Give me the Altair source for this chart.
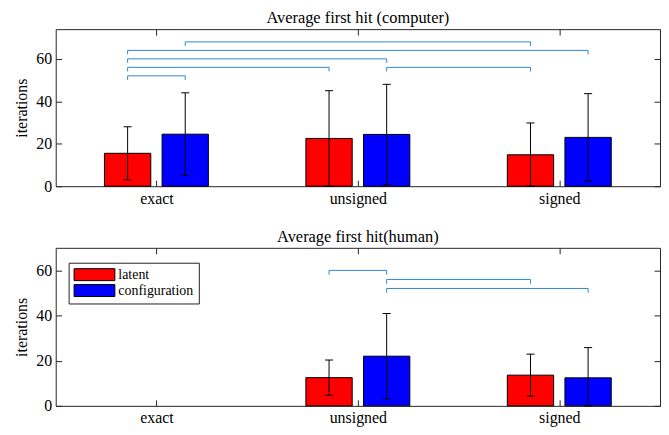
import json
import altair as alt
import pandas as pd

categories = ["exact", "unsigned", "signed"]
series = ["latent", "configuration"]
series_colors = ["#FF0000", "#0000FF"]

comp_mean_latent = [15.5, 22.5, 14.8]
comp_mean_config = [24.5, 24.4, 23.0]
comp_std_latent = [12.5, 22.5, 15.0]
comp_std_config = [19.5, 23.6, 20.6]

human_mean_latent = [0.0, 12.5, 13.6]
human_mean_config = [0.0, 22.0, 12.4]
human_std_latent = [0.0, 7.8, 9.3]
human_std_config = [0.0, 18.9, 13.4]

# significance brackets: (category, series) -> (category, series) at level
comp_sig_from = [("exact", "latent"), ("exact", "latent"), ("exact", "latent"),
                 ("exact", "latent"), ("exact", "configuration"), ("unsigned", "configuration")]
comp_sig_to = [("exact", "configuration"), ("unsigned", "latent"), ("unsigned", "configuration"),
               ("signed", "configuration"), ("signed", "latent"), ("signed", "latent")]
comp_sig_level = [52, 56, 60, 64, 68, 56]

human_sig_from = [("unsigned", "latent"), ("unsigned", "configuration"), ("unsigned", "configuration")]
human_sig_to = [("unsigned", "configuration"), ("signed", "latent"), ("signed", "configuration")]
human_sig_level = [60, 56, 52]

y_ticks = [0, 20, 40, 60]

W = 608
FONT = "Liberation Serif"
BOX = "#262626"
BRACKET = "#2C88D0"
OFFS = {"latent": -0.143, "configuration": 0.143}
HALF = 0.115
CAP = 0.02
TICKDROP = 1.9


def center(cat, ser):
    return categories.index(cat) + 1 + OFFS[ser]


def panel(title, ml, mc, sl, sc, sfrom, sto, slev, ymax, H, show_legend):
    rows = []
    for i, c in enumerate(categories):
        for s, m, sd in (("latent", ml[i], sl[i]), ("configuration", mc[i], sc[i])):
            if m <= 0:
                continue
            cx = center(c, s)
            rows.append(dict(cat=c, series=s, cx=cx, xl=cx - HALF, xr=cx + HALF,
                             cl=cx - CAP, cr=cx + CAP, mean=m,
                             lo=max(0.0, m - sd), hi=m + sd))
    df = pd.DataFrame(rows)
    br = pd.DataFrame([dict(x1=center(*a), x2=center(*b), y=l, yt=l - TICKDROP)
                       for a, b, l in zip(sfrom, sto, slev)])

    xs = alt.Scale(domain=[0.5, 3.5], nice=False, zero=False)
    ys = alt.Scale(domain=[0, ymax], nice=False, zero=True)
    label_expr = json.dumps(categories) + "[datum.value - 1]"

    def tick_axis(orient, offset, values):
        return alt.Axis(orient=orient, offset=offset, labels=False, domain=False, grid=False,
                        ticks=True, tickSize=6, values=values, title=None, tickColor=BOX)

    if show_legend:
        legend = alt.Legend(orient="none", legendX=13, legendY=15, title=None, strokeColor="#222222",
                            fillColor="white", padding=5,
                            symbolType="M-3.42,-1L3.42,-1L3.42,1L-3.42,1Z",
                            symbolSize=144, symbolStrokeColor="black", symbolStrokeWidth=1,
                            symbolOpacity=1, symbolOffset=14, labelFont=FONT, labelFontSize=14,
                            labelColor="black", labelOffset=17, rowPadding=0, cornerRadius=0)
    else:
        legend = None

    bars = alt.Chart(df).mark_bar(stroke="black", strokeWidth=1, opacity=1).encode(
        x=alt.X("xl:Q", scale=xs, axis=alt.Axis(orient="bottom", values=[1, 2, 3], labelExpr=label_expr,
                                               title=None, ticks=False, tickSize=0, domain=False,
                                               grid=False, labelPadding=4)),
        x2="xr",
        y=alt.Y("mean:Q", scale=ys, axis=alt.Axis(orient="left", values=y_ticks, title="iterations",
                                                  ticks=False, tickSize=0, domain=False, grid=False,
                                                  labelPadding=4, titlePadding=6)),
        y2=alt.datum(0),
        color=alt.Color("series:N", scale=alt.Scale(domain=series, range=series_colors), legend=legend),
    )
    err = alt.Chart(df).mark_rule(color="black", strokeWidth=1).encode(
        x=alt.X("cx:Q", scale=xs, axis=tick_axis("top", -H, [1, 2, 3])),
        y=alt.Y("lo:Q", scale=ys, axis=tick_axis("right", -W, y_ticks)),
        y2="hi",
    )
    cap_hi = alt.Chart(df).mark_rule(color="black", strokeWidth=1).encode(
        x=alt.X("cl:Q", scale=xs, axis=tick_axis("bottom", -H, [1, 2, 3])),
        x2="cr",
        y=alt.Y("hi:Q", scale=ys, axis=tick_axis("left", -W, y_ticks)),
    )
    cap_lo = alt.Chart(df).mark_rule(color="black", strokeWidth=1).encode(
        x=alt.X("cl:Q", scale=xs, axis=None), x2="cr",
        y=alt.Y("lo:Q", scale=ys, axis=None),
    )
    bh = alt.Chart(br).mark_rule(color=BRACKET, strokeWidth=1).encode(
        x=alt.X("x1:Q", scale=xs, axis=None), x2="x2",
        y=alt.Y("y:Q", scale=ys, axis=None),
    )
    bl = alt.Chart(br).mark_rule(color=BRACKET, strokeWidth=1).encode(
        x=alt.X("x1:Q", scale=xs, axis=None),
        y=alt.Y("y:Q", scale=ys, axis=None), y2="yt",
    )
    brr = alt.Chart(br).mark_rule(color=BRACKET, strokeWidth=1).encode(
        x=alt.X("x2:Q", scale=xs, axis=None),
        y=alt.Y("y:Q", scale=ys, axis=None), y2="yt",
    )
    return alt.layer(bh, bl, brr, bars, err, cap_hi, cap_lo).resolve_scale(
        x="shared", y="shared").resolve_axis(x="independent", y="independent").properties(
        width=W, height=H,
        title=alt.TitleParams(title, anchor="middle", offset=2),
    )


top = panel("Average first hit (computer)", comp_mean_latent, comp_mean_config,
            comp_std_latent, comp_std_config, comp_sig_from, comp_sig_to, comp_sig_level,
            74, 158, False)
bottom = panel("Average first hit(human)", human_mean_latent, human_mean_config,
               human_std_latent, human_std_config, human_sig_from, human_sig_to, human_sig_level,
               70, 159, True)

chart = alt.vconcat(top, bottom, spacing=21).resolve_scale(color="independent").properties(
    padding={"left": 5, "top": 0, "right": 0, "bottom": 0}, background="white"
).configure_view(stroke=BOX, strokeWidth=1).configure_axis(
    labelFont=FONT, labelFontSize=16, labelColor="black", titleFont=FONT, titleFontSize=16,
    titleColor="black", titleFontWeight="normal"
).configure_title(
    font=FONT, fontSize=16.5, fontWeight="normal", color="black"
).configure_legend(
    labelFont=FONT, labelFontSize=14, labelColor="black"
)

chart.save("out.html", embed_options={"renderer": "svg", "actions": False})
